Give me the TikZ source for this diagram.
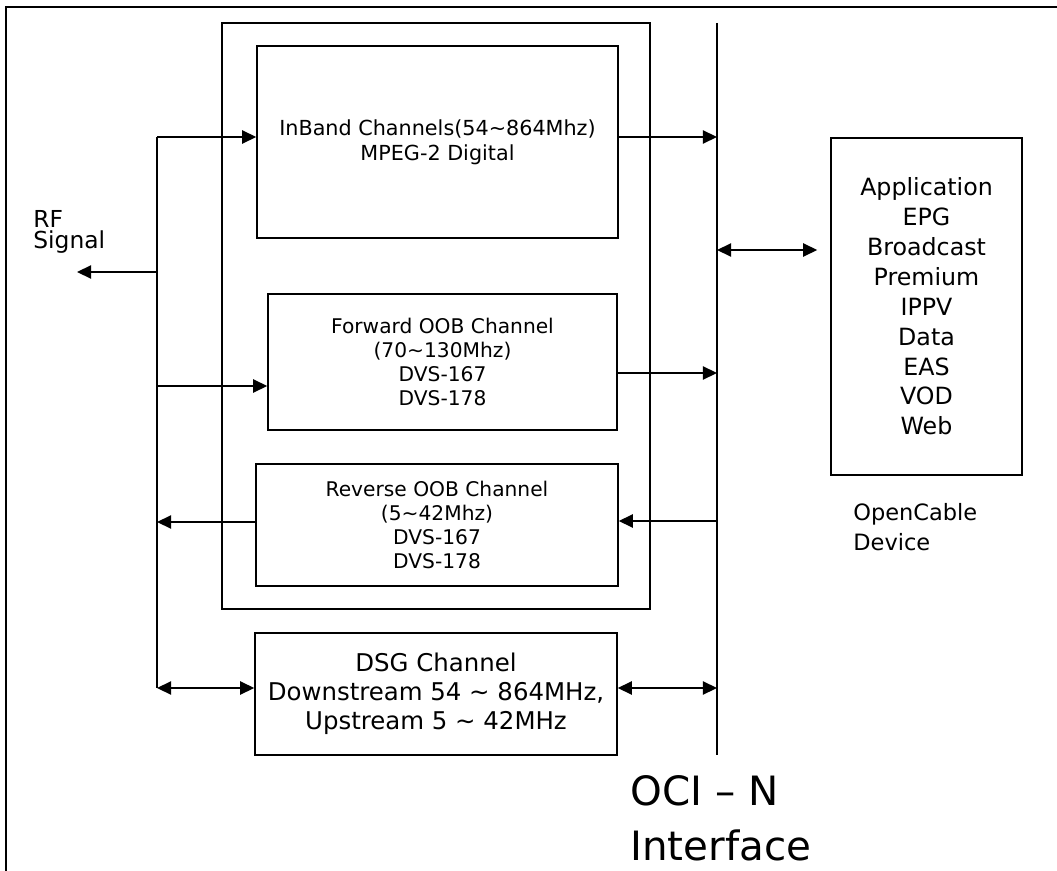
\documentclass[tikz,border=0pt]{standalone}
\usepackage{fontspec}
\setmainfont{DejaVu Sans}
\usepackage{tikz}
\usetikzlibrary{shapes.geometric, arrows.meta}
\tikzstyle{frame} = [line width=0.9pt]
\tikzstyle{container} = [rectangle, draw=black, line width=0.9pt, minimum width=8.56cm, minimum height=11.72cm]
\tikzstyle{channel} = [rectangle, draw=black, line width=0.9pt, inner sep=0pt, align=center,
font=\fontsize{11.5}{13.6}\selectfont]
\tikzstyle{dsgbox} = [rectangle, draw=black, line width=0.9pt, inner sep=0pt, align=center,
minimum width=7.24cm, minimum height=2.44cm, font=\fontsize{13.9}{16.4}\selectfont]
\tikzstyle{device} = [rectangle, draw=black, line width=0.9pt, inner sep=0pt, align=center,
minimum width=3.82cm, minimum height=6.74cm, font=\fontsize{13.5}{17}\selectfont]
\tikzstyle{caption} = [inner sep=0pt, align=left, anchor=north west]
\tikzstyle{arrow} = [line width=0.9pt, -{Triangle[length=8pt, width=7.5pt]}]
\tikzstyle{darrow} = [line width=0.9pt, {Triangle[length=8pt, width=7.5pt]}-{Triangle[length=8pt, width=7.5pt]}]

\begin{document}
\begin{tikzpicture}[x=0.02cm, y=-0.02cm]
\useasboundingbox (0,0) rectangle (1057,871);

% ------------------------- nodes -------------------------

% ----- frame
\draw[frame] (1057,7) -- (6,7) -- (6,871);
% ----- node: tuner
\node(tuner)[container] at (436,316) {};
% ----- node: inband
\node(inband)[channel, minimum width=7.22cm, minimum height=3.84cm, font=\fontsize{11.8}{14.2}\selectfont]
at (437.5,142) {InBand Channels(54\textasciitilde864Mhz)\\MPEG-2 Digital};
% ----- node: fwd
\node(fwd)[channel, minimum width=6.98cm, minimum height=2.72cm] at (442.5,362)
{Forward OOB Channel\\(70\textasciitilde130Mhz)\\DVS-167\\DVS-178};
% ----- node: rev
\node(rev)[channel, minimum width=7.24cm, minimum height=2.44cm] at (437,525)
{Reverse OOB Channel\\(5\textasciitilde42Mhz)\\DVS-167\\DVS-178};
% ----- node: dsg
\node(dsg)[dsgbox] at (436,694)
{DSG Channel\\Downstream 54 \textasciitilde{} 864MHz,\\Upstream 5 \textasciitilde{} 42MHz};
% ----- node: app
\node(app)[device] at (926.5,306.5)
{Application\\EPG\\Broadcast\\Premium\\IPPV\\Data\\EAS\\VOD\\Web};
% ----- labels
\node(rfsig)[caption, font=\fontsize{13.3}{11.9}\selectfont] at (33,210) {RF\\Signal};
\node(ocdev)[caption, font=\fontsize{12.8}{17}\selectfont] at (853,503) {OpenCable\\Device};
\node(ocin)[caption, font=\fontsize{23}{31.2}\selectfont] at (630,775) {OCI -- N\\Interface};

% ----- bus and interface
\coordinate(bustop) at (157,137);
\coordinate(busbot) at (157,688);
\coordinate(ocitop) at (717,23);
\coordinate(ocibot) at (717,755);
\coordinate(rfend) at (77,272);

% ------------------------- connections -------------------------
\draw[frame](bustop)--(busbot);
\draw[frame](ocitop)--(ocibot);
\draw[arrow](bustop)--(inband.west |- bustop);
\draw[arrow](inband.east |- bustop)--(ocitop |- bustop);
\draw[arrow](rfend -| bustop)--(rfend);
\draw[arrow](bustop |- 0,386)--(fwd.west |- 0,386);
\draw[arrow](fwd.east |- 0,373)--(ocitop |- 0,373);
\draw[arrow](ocitop |- 0,521)--(rev.east |- 0,521);
\draw[arrow](rev.west |- 0,522)--(bustop |- 0,522);
\draw[darrow](busbot)--(dsg.west |- busbot);
\draw[darrow](dsg.east |- busbot)--(ocitop |- busbot);
\draw[darrow, shorten >=0.26cm](ocitop |- 0,250)--(app.west |- 0,250);

\end{tikzpicture}
\end{document}
